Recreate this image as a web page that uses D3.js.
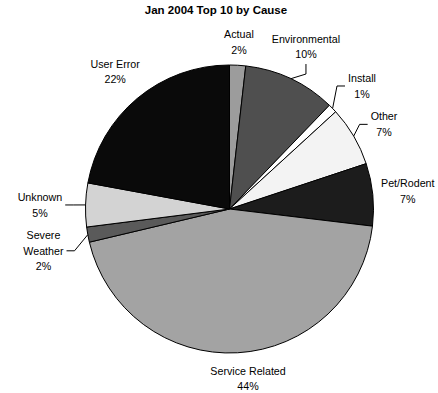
<!DOCTYPE html>
<html>
<head>
<meta charset="utf-8">
<script src="https://cdn.jsdelivr.net/npm/d3@7"></script>
<style>
    html, body { margin: 0; padding: 0; background: #fff; }
    svg text { font-family: "Liberation Sans", Arial, sans-serif; fill: #000; }
</style>
</head>
<body>
<svg id="chart"></svg>
<script>
const title = "Jan 2004 Top 10 by Cause";
const categories = ["Actual", "Environmental", "Install", "Other", "Pet/Rodent",
    "Service Related", "Severe Weather", "Unknown", "User Error"];
const shares = [1.8, 10.4, 1.0, 6.7, 7.0, 44.4, 1.7, 4.9, 22.1];
const sliceColors = ["#9c9c9c", "#4f4f4f", "#ffffff", "#f3f3f3", "#1c1c1c",
    "#a3a3a3", "#5a5a5a", "#d3d3d3", "#0a0a0a"];
// names as they wrap in the picture
const wrapped = { "Severe Weather": ["Severe", "Weather"] };
const withLeader = ["Environmental", "Install", "Other", "Severe Weather", "Unknown"];

// label placement tweaks (radial push in px, turn in degrees)
const nudge = {
    "Install": { push: 9, turn: 1.4 },
    "Other": { push: 6, turn: 1.7 },
    "Service Related": { push: 0, turn: -3 },
    "Severe Weather": { push: 15, turn: -2.4 },
    "Unknown": { push: 16, turn: -0.4 }
};

const width = 438, height = 393;
const center = { x: 229.5, y: 209 };
const radius = 144;
const gap = 7;
const fontSize = 10.7, lineH = 15.5;

const data = categories.map((c, i) => ({ label: c, value: shares[i] }));
const total = d3.sum(data, d => d.value);

const svg = d3.select("#chart")
    .attr("width", width)
    .attr("height", height);

svg.append("text")
    .attr("x", 216)
    .attr("y", 14)
    .style("text-anchor", "middle")
    .style("font-weight", "bold")
    .style("font-size", "11.5px")
    .text(title);

const color = d3.scaleOrdinal().domain(categories).range(sliceColors);
const pie = d3.pie().sort(null).value(d => d.value);
const arc = d3.arc().innerRadius(0).outerRadius(radius);

const g = svg.append("g")
    .attr("transform", `translate(${center.x}, ${center.y})`);

const arcs = pie(data);

g.selectAll("path.slice")
    .data(arcs)
    .enter()
    .append("path")
    .attr("class", "slice")
    .attr("d", arc)
    .style("fill", d => color(d.data.label))
    .style("stroke", "#000")
    .style("stroke-width", 1);

// Labels
arcs.forEach(function (d) {
    const name = d.data.label;
    const lines = (wrapped[name] || [name]).concat([Math.round(100 * d.data.value / total) + "%"]);
    const tweak = nudge[name] || { push: 0, turn: 0 };
    const mid = (d.startAngle + d.endAngle) / 2 + tweak.turn * Math.PI / 180;
    const s = Math.sin(mid), c = Math.cos(mid);

    const t = g.append("text")
        .style("font-size", fontSize + "px")
        .style("text-anchor", "middle");
    lines.forEach(function (l) {
        t.append("tspan").text(l);
    });
    let w = 0;
    t.selectAll("tspan").each(function () {
        w = Math.max(w, this.getComputedTextLength());
    });
    const h = lines.length * lineH;
    const dist = radius + gap + tweak.push + Math.abs(s) * w / 2 + Math.abs(c) * h / 2;
    const lx = s * dist, ly = -c * dist;

    t.selectAll("tspan")
        .attr("x", lx)
        .attr("y", (l, i) => ly - h / 2 + lineH * (i + 0.5))
        .attr("dy", "0.36em");

    if (withLeader.indexOf(name) >= 0) {
        const p = [Math.sin((d.startAngle + d.endAngle) / 2) * radius,
            -Math.cos((d.startAngle + d.endAngle) / 2) * radius];
        let a, e;
        if (Math.abs(s) > 0.6) {
            const dir = s > 0 ? -1 : 1;
            a = [lx + dir * (w / 2 + 3), ly];
            e = [a[0] + dir * 8, ly];
        } else {
            const dir = c > 0 ? 1 : -1;
            a = [lx, ly + dir * (h / 2 + 2)];
            e = [lx, a[1] + dir * 10];
        }
        g.append("path")
            .attr("d", d3.line()([p, e, a]))
            .style("fill", "none")
            .style("stroke", "#000")
            .style("stroke-width", 1);
    }
});
</script>
</body>
</html>
